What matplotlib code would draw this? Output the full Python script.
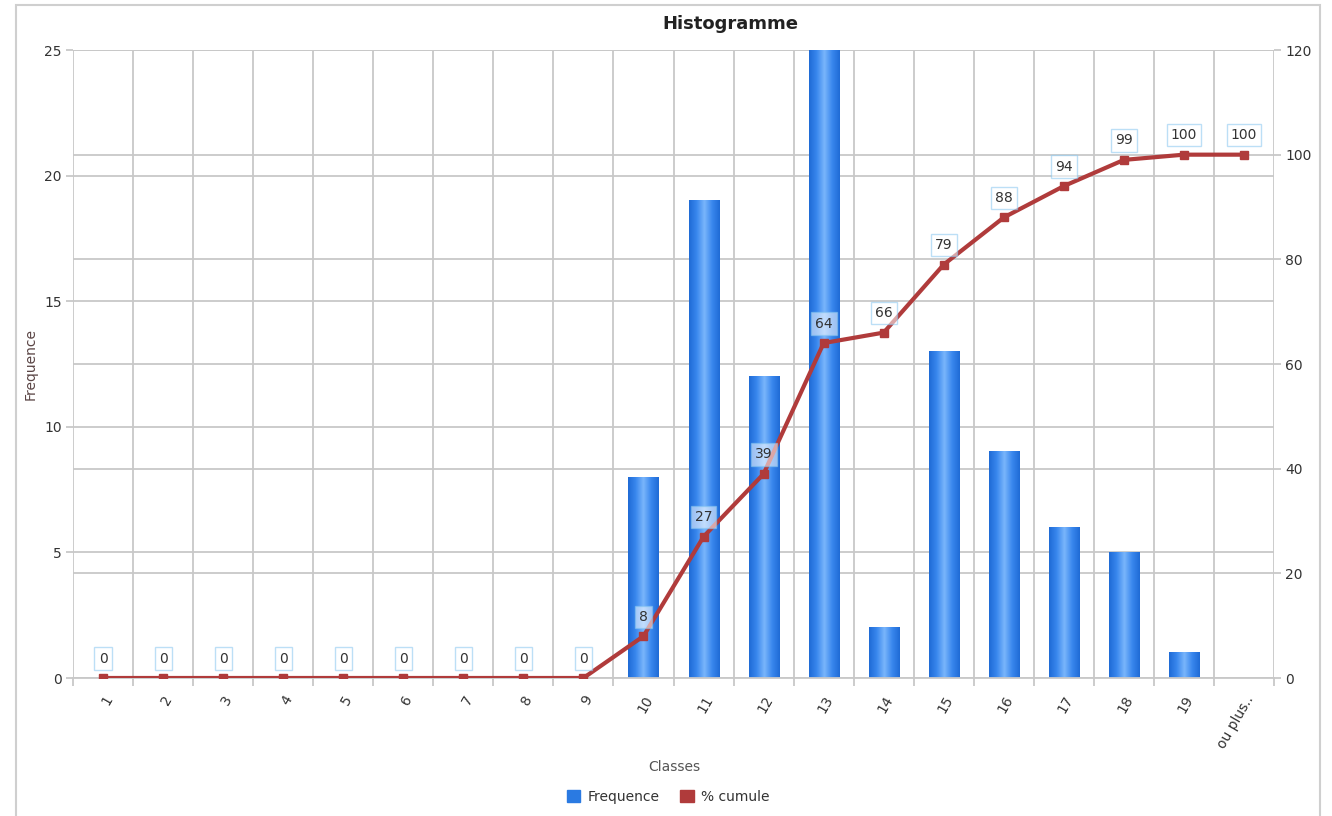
import matplotlib.pyplot as plt
import matplotlib.transforms as mtransforms
from matplotlib.colors import LinearSegmentedColormap
from matplotlib.patches import Rectangle, Patch
import numpy as np

classes = ["1", "2", "3", "4", "5", "6", "7", "8", "9", "10",
           "11", "12", "13", "14", "15", "16", "17", "18", "19", "ou plus.."]
frequence = [0, 0, 0, 0, 0, 0, 0, 0, 0, 8, 19, 12, 25, 2, 13, 9, 6, 5, 1, 0]
cumule = [0, 0, 0, 0, 0, 0, 0, 0, 0, 8, 27, 39, 64, 66, 79, 88, 94, 99, 100, 100]

left_ticks = [0, 5, 10, 15, 20, 25]
right_ticks = [0, 20, 40, 60, 80, 100, 120]

txt = "#333333"
grid_c = "#c8c8c8"
bar_c = "#2a7ae2"
line_c = "#b03b3b"
fs = 10

plt.rcParams["font.family"] = ["DejaVu Sans"]

fig = plt.figure(figsize=(13.32, 8.16), dpi=100)
fig.patches.append(Rectangle((16 / 1332, -0.01), (1320 - 16) / 1332, 1 - 5 / 816 + 0.01,
                             transform=fig.transFigure, fill=False,
                             edgecolor="#cfcfcf", linewidth=1.5))

ax = fig.add_axes([73 / 1332, 1 - 678 / 816, (1274 - 73) / 1332, (678 - 50) / 816])
ax2 = ax.twinx()

n = len(classes)
x = np.arange(n)
ax2.set_ylim(0, 120)

# grid: vertical lines at class boundaries, horizontal for both axes
for b in np.arange(-0.5, n, 1.0):
    ax.axvline(b, color=grid_c, lw=1.3, zorder=0)
for v in left_ticks:
    ax.axhline(v, color=grid_c, lw=1.3, zorder=0)
blend = mtransforms.blended_transform_factory(ax.transAxes, ax2.transData)
for v in right_ticks:
    ax.plot([0, 1], [v, v], transform=blend, color=grid_c, lw=1.3, zorder=0)

# bars with a horizontal shaded gradient
grad_cmap = LinearSegmentedColormap.from_list(
    "barshade", ["#1f6bd6", "#3a88ee", "#7ab6fb", "#3a88ee", "#1f6bd6"])
grad = np.linspace(0, 1, 64).reshape(1, -1)
w = 0.5
for xi, f in zip(x, frequence):
    if f <= 0:
        continue
    ax.imshow(grad, cmap=grad_cmap, aspect="auto", interpolation="bilinear",
              extent=(xi - w / 2, xi + w / 2, 0, f), zorder=2)
ax.set_xlim(-0.5, n - 0.5)
ax.set_ylim(0, 25)

ax.set_xticks(x)
ax.set_xticklabels(classes, rotation=60, ha="right", va="top",
                   rotation_mode="anchor", color=txt, fontsize=fs)
ax.set_xticks(np.arange(-0.5, n, 1.0), minor=True)
ax.tick_params(axis="x", which="major", length=0, pad=11)
ax.tick_params(axis="x", which="minor", length=6, color=grid_c, width=1.3)
ax.set_yticks(left_ticks)
ax.tick_params(axis="y", length=5, color=grid_c, width=1.3, labelcolor=txt,
               labelsize=fs, pad=3)
ax2.set_yticks(right_ticks)
ax2.tick_params(axis="y", length=5, color=grid_c, width=1.3, labelcolor=txt,
                labelsize=fs, pad=3)

for a in (ax, ax2):
    for s in a.spines.values():
        s.set_visible(False)
ax.spines["bottom"].set_visible(True)
ax.spines["bottom"].set_color(grid_c)
ax.spines["bottom"].set_linewidth(1.3)

# cumulative percentage line with boxed value labels
ax2.patch.set_visible(False)
ax2.plot(x, cumule, color=line_c, lw=3, marker="s", markersize=6,
         markerfacecolor=line_c, markeredgecolor=line_c, zorder=3)
for xi, c in zip(x, cumule):
    ax2.annotate(str(c), (xi, c), xytext=(0, 14), textcoords="offset points",
                 ha="center", va="center", fontsize=fs, color=txt,
                 bbox=dict(boxstyle="square,pad=0.3", facecolor="white",
                           alpha=0.55, edgecolor="#86c6f0", linewidth=1),
                 zorder=4)

fig.text(730 / 1332, 1 - 24 / 816, "Histogramme", ha="center", va="center",
         fontsize=13, fontweight="bold", color="#222222")
ax.set_ylabel("Frequence", fontsize=fs, color="#5a4545", labelpad=5)
fig.text(674 / 1332, 1 - 767 / 816, "Classes", ha="center", va="center",
         fontsize=fs, color="#555555")

handles = [Patch(facecolor=bar_c, edgecolor=bar_c, label="Frequence"),
           Patch(facecolor=line_c, edgecolor=line_c, label="% cumule")]
fig.legend(handles=handles, loc="center", bbox_to_anchor=(668 / 1332, 1 - 797 / 816),
           ncol=2, frameon=False, fontsize=fs, handlelength=1.0, handleheight=1.0,
           handletextpad=0.5, columnspacing=1.5, labelcolor=txt)

fig.savefig("out.png", dpi=100)
